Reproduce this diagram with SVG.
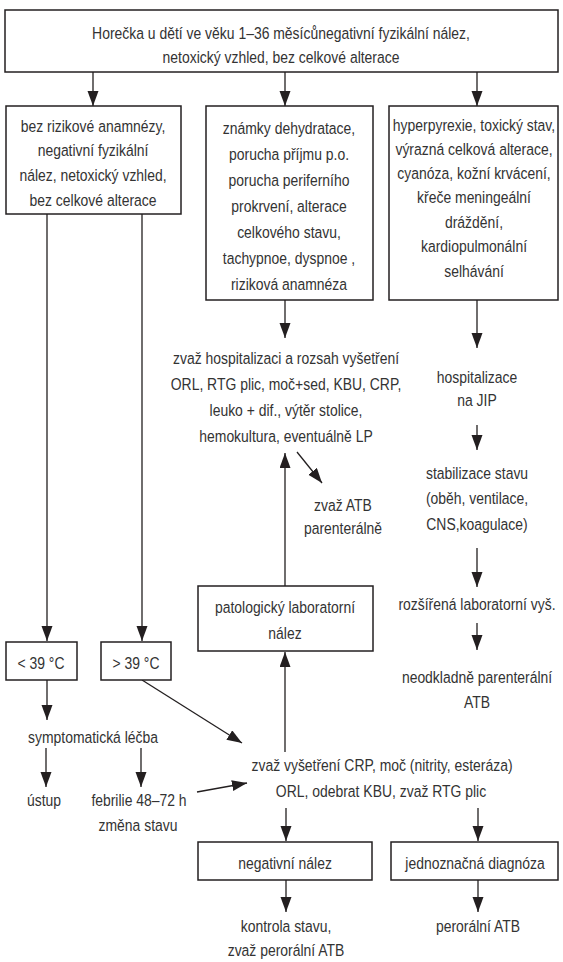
<svg xmlns="http://www.w3.org/2000/svg" width="563" height="962" viewBox="0 0 563 962">
<defs>
<style>
.b{fill:#fff;stroke:#231f20;stroke-width:1.5}
.c{fill:none;stroke:#231f20;stroke-width:1.3;marker-end:url(#ah)}
text{font-family:"Liberation Sans",Arial,sans-serif;font-size:17px;fill:#333;text-anchor:middle}
</style>
<marker id="ah" markerUnits="userSpaceOnUse" markerWidth="16" markerHeight="12" refX="15" refY="5.5" orient="auto">
<path d="M0,0 L15,5.5 L0,11 z" fill="#231f20"/>
</marker>
</defs>
<rect width="563" height="962" fill="#fff"/>
<g id="connectors">
<path class="c" d="M93,72 V106"/>
<path class="c" d="M285,72 V106"/>
<path class="c" d="M477,72 V106"/>
<path class="c" d="M47,214 V641"/>
<path class="c" d="M142,214 V641"/>
<path class="c" d="M285,300 V338"/>
<path class="c" d="M477,300 V348"/>
<path class="c" d="M477,425 V450"/>
<path class="c" d="M477,548 V587"/>
<path class="c" d="M477,623 V650"/>
<path class="c" d="M285,586 V453"/>
<path class="c" d="M297,452 L322,483"/>
<path class="c" d="M47,680 V720"/>
<path class="c" d="M46,748 V787"/>
<path class="c" d="M141,748 V787"/>
<path class="c" d="M142,680 L242,743"/>
<path class="c" d="M197,792 L247,783"/>
<path class="c" d="M285,752 V652"/>
<path class="c" d="M286,808 V841"/>
<path class="c" d="M478,808 V841"/>
<path class="c" d="M286,880 V912"/>
<path class="c" d="M478,880 V912"/>
</g>
<g id="top">
<rect class="b" x="5" y="10" width="553" height="62"/>
<text transform="translate(281,39) scale(0.82,1)">Horečka u dětí ve věku 1–36 měsícůnegativní fyzikální nález,</text>
<text transform="translate(281,63) scale(0.82,1)">netoxický vzhled, bez celkové alterace</text>
</g>
<g id="left">
<rect class="b" x="6" y="106" width="175" height="108"/>
<text transform="translate(93,132) scale(0.82,1)">bez rizikové anamnézy,</text>
<text transform="translate(93,156) scale(0.82,1)">negativní fyzikální</text>
<text transform="translate(93,181) scale(0.82,1)">nález, netoxický vzhled,</text>
<text transform="translate(93,206) scale(0.82,1)">bez celkové alterace</text>
</g>
<g id="middle">
<rect class="b" x="206" y="106" width="167" height="194"/>
<text transform="translate(289,134) scale(0.82,1)">známky dehydratace,</text>
<text transform="translate(289,160) scale(0.82,1)">porucha příjmu p.o.</text>
<text transform="translate(289,186) scale(0.82,1)">porucha periferního</text>
<text transform="translate(289,212) scale(0.82,1)">prokrvení, alterace</text>
<text transform="translate(289,238) scale(0.82,1)">celkového stavu,</text>
<text transform="translate(289,264) scale(0.82,1)">tachypnoe, dyspnoe ,</text>
<text transform="translate(289,290) scale(0.82,1)">riziková anamnéza</text>
</g>
<g id="right">
<rect class="b" x="389" y="106" width="169" height="194"/>
<text transform="translate(474,131) scale(0.82,1)">hyperpyrexie, toxický stav,</text>
<text transform="translate(474,155) scale(0.82,1)">výrazná celková alterace,</text>
<text transform="translate(474,179) scale(0.82,1)">cyanóza, kožní krvácení,</text>
<text transform="translate(474,203) scale(0.82,1)">křeče meningeální</text>
<text transform="translate(474,228) scale(0.82,1)">dráždění,</text>
<text transform="translate(474,252) scale(0.82,1)">kardiopulmonální</text>
<text transform="translate(474,277) scale(0.82,1)">selhávání</text>
</g>
<g id="hosp-exam">
<text transform="translate(286,364) scale(0.82,1)">zvaž hospitalizaci a rozsah vyšetření</text>
<text transform="translate(286,390) scale(0.82,1)">ORL, RTG plic, moč+sed, KBU, CRP,</text>
<text transform="translate(286,416) scale(0.82,1)">leuko + dif., výtěr stolice,</text>
<text transform="translate(286,442) scale(0.82,1)">hemokultura, eventuálně LP</text>
</g>
<g id="atb-par">
<text transform="translate(343,511) scale(0.82,1)">zvaž ATB</text>
<text transform="translate(343,534) scale(0.82,1)">parenterálně</text>
</g>
<g id="jip">
<text transform="translate(477,383) scale(0.82,1)">hospitalizace</text>
<text transform="translate(477,406) scale(0.82,1)">na JIP</text>
</g>
<g id="stab">
<text transform="translate(477,479) scale(0.82,1)">stabilizace stavu</text>
<text transform="translate(477,504) scale(0.82,1)">(oběh, ventilace,</text>
<text transform="translate(477,530) scale(0.82,1)">CNS,koagulace)</text>
</g>
<g id="lab-ext">
<text transform="translate(477,610) scale(0.82,1)">rozšířená laboratorní vyš.</text>
</g>
<g id="atb-now">
<text transform="translate(477,683) scale(0.82,1)">neodkladně parenterální</text>
<text transform="translate(477,708) scale(0.82,1)">ATB</text>
</g>
<g id="pato">
<rect class="b" x="198" y="586" width="175" height="65"/>
<text transform="translate(285,613) scale(0.82,1)">patologický laboratorní</text>
<text transform="translate(285,639) scale(0.82,1)">nález</text>
</g>
<g id="lt39">
<rect class="b" x="6" y="642" width="71" height="38"/>
<text transform="translate(41,669) scale(0.82,1)">&lt; 39 °C</text>
</g>
<g id="gt39">
<rect class="b" x="101" y="642" width="70" height="38"/>
<text transform="translate(136,669) scale(0.82,1)">&gt; 39 °C</text>
</g>
<g id="sympt">
<text transform="translate(93,743) scale(0.82,1)">symptomatická léčba</text>
</g>
<g id="ustup">
<text transform="translate(44,806) scale(0.82,1)">ústup</text>
</g>
<g id="febr">
<text transform="translate(139,806) scale(0.82,1)">febrilie 48–72 h</text>
<text transform="translate(138,831) scale(0.82,1)">změna stavu</text>
</g>
<g id="exam2">
<text transform="translate(382,771) scale(0.82,1)">zvaž vyšetření CRP, moč (nitrity, esteráza)</text>
<text transform="translate(381,797) scale(0.82,1)">ORL, odebrat KBU, zvaž RTG plic</text>
</g>
<g id="neg">
<rect class="b" x="198" y="842" width="174" height="38"/>
<text transform="translate(285,869) scale(0.82,1)">negativní nález</text>
</g>
<g id="diag">
<rect class="b" x="391" y="842" width="167" height="38"/>
<text transform="translate(475,869) scale(0.82,1)">jednoznačná diagnóza</text>
</g>
<g id="control">
<text transform="translate(286,932) scale(0.82,1)">kontrola stavu,</text>
<text transform="translate(286,956) scale(0.82,1)">zvaž perorální ATB</text>
</g>
<g id="oral">
<text transform="translate(478,932) scale(0.82,1)">perorální ATB</text>
</g>
</svg>
